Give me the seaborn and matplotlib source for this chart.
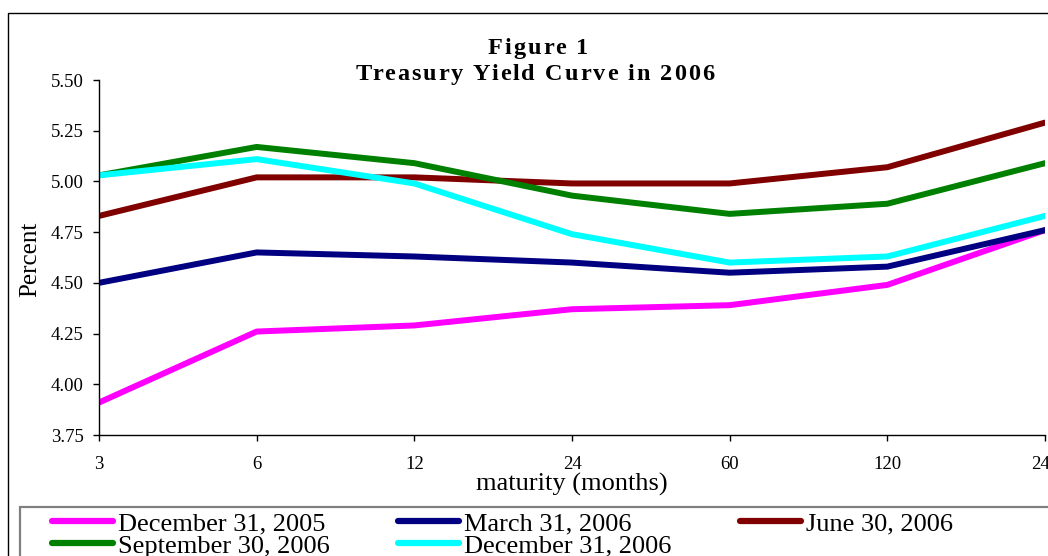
import matplotlib
matplotlib.use("Agg")
import matplotlib.pyplot as plt
import matplotlib.patches as mpatches
import seaborn as sns
import pandas as pd

# ---------------- data ----------------
maturities = ["3", "6", "12", "24", "60", "120", "240"]
dec_2005 = [3.91, 4.26, 4.29, 4.37, 4.39, 4.49, 4.76]
mar_2006 = [4.50, 4.65, 4.63, 4.60, 4.55, 4.58, 4.76]
jun_2006 = [4.83, 5.02, 5.02, 4.99, 4.99, 5.07, 5.29]
sep_2006 = [5.03, 5.17, 5.09, 4.93, 4.84, 4.89, 5.09]
dec_2006 = [5.03, 5.11, 4.99, 4.74, 4.60, 4.63, 4.83]
series_labels = ["December 31, 2005", "March 31, 2006", "June 30, 2006",
                 "September 30, 2006", "December 31, 2006"]
series_values = [dec_2005, mar_2006, jun_2006, sep_2006, dec_2006]
series_colors = ["#FF00FF", "#000080", "#800000", "#008000", "#00FFFF"]
y_ticks = [3.75, 4.00, 4.25, 4.50, 4.75, 5.00, 5.25, 5.50]

rows = []
for lab, vals in zip(series_labels, series_values):
    for i, v in enumerate(vals):
        rows.append({"pos": i, "maturity": maturities[i], "yield": v, "date": lab})
df = pd.DataFrame(rows)

# ---------------- figure ----------------
sns.set_theme(style="white")
plt.rcParams["font.family"] = ["Liberation Serif", "DejaVu Serif"]

W, H = 1048, 556
fig = plt.figure(figsize=(W / 100, H / 100), dpi=100)
fig.patch.set_facecolor("white")

def fx(px):
    return px / W

def fy(py):
    return 1 - py / H

ax = fig.add_axes([fx(99), fy(435), fx(1045) - fx(99), fy(80) - fy(435)])
ax.set_facecolor("white")

palette = dict(zip(series_labels, series_colors))
sns.lineplot(data=df, x="pos", y="yield", hue="date", hue_order=series_labels,
             palette=palette, linewidth=4.3, ax=ax, legend=True,
             solid_capstyle="round", solid_joinstyle="round")

ax.set_xlim(0, len(maturities) - 1)
ax.set_ylim(y_ticks[0], y_ticks[-1])
ax.set_xticks(range(len(maturities)))
ax.set_xticklabels(maturities)
ax.set_yticks(y_ticks)
ax.set_yticklabels([f"{t:.2f}" for t in y_ticks])
for s in ["top", "right"]:
    ax.spines[s].set_visible(False)
for s in ["left", "bottom"]:
    ax.spines[s].set_color("black")
    ax.spines[s].set_linewidth(1.0)
ax.tick_params(axis="both", which="major", direction="out", length=4,
               width=1, color="black", labelsize=13.5, labelcolor="black",
               left=True, bottom=True)
ax.tick_params(axis="y", pad=7)
ax.tick_params(axis="x", pad=11)
ax.grid(False)

ax.set_xlabel("maturity (months)", fontsize=19, color="black", va="center")
ax.xaxis.set_label_coords(0.5, (435 - 484) / 355)
ax.set_ylabel("Percent", fontsize=18, color="black", va="center")
ax.yaxis.set_label_coords((30 - 99) / 946, (435 - 259) / 355)

# legend (row-wise order -> column-wise for matplotlib)
handles, labels = ax.get_legend_handles_labels()
ax.get_legend().remove()
hmap = dict(zip(labels, handles))
order = ["December 31, 2005", "September 30, 2006", "March 31, 2006",
         "December 31, 2006", "June 30, 2006"]
leg = fig.legend([hmap[o] for o in order], order, ncol=3, loc="upper left",
                 bbox_to_anchor=(fx(52), fy(512)), frameon=False, fontsize=19,
                 handlelength=2.3, handletextpad=0.2, columnspacing=2.6,
                 labelspacing=-0.05, borderpad=0, borderaxespad=0)
for t in leg.get_texts():
    t.set_color("black")
for lh in leg.get_lines():
    lh.set_linewidth(4.5)
    lh.set_solid_capstyle("round")

# legend box and outer frame (extend beyond the visible area)
fig.add_artist(mpatches.Rectangle((fx(20), fy(620)), fx(1120) - fx(20), fy(507) - fy(620),
                                  transform=fig.transFigure, fill=False,
                                  edgecolor="#808080", linewidth=1.6, clip_on=False))
fig.add_artist(mpatches.Rectangle((fx(8), fy(640)), fx(1140) - fx(8), fy(13) - fy(640),
                                  transform=fig.transFigure, fill=False,
                                  edgecolor="black", linewidth=1.0, clip_on=False))

# letter-spaced bold title
renderer = fig.canvas.get_renderer()

def text_width(s, **kw):
    t = fig.text(0, 0, s, **kw)
    w = t.get_window_extent(renderer).width
    t.remove()
    return w

def spaced_title(s, xc, ybase, spacing, **kw):
    n = len(s)
    starts = []
    for i, ch in enumerate(s):
        starts.append(text_width(s[:i + 1], **kw) - text_width(ch, **kw) if ch != " " else None)
    total = text_width(s, **kw) + spacing * (n - 1)
    x0 = xc - total / 2
    for i, ch in enumerate(s):
        if ch == " ":
            continue
        fig.text(fx(x0 + starts[i] + spacing * i), fy(ybase), ch, ha="left",
                 va="baseline", **kw)

title_kw = dict(fontsize=17.5, fontweight="bold", color="black")
spaced_title("Figure 1", 538, 54, 2.0, **title_kw)
spaced_title("Treasury Yield Curve in 2006", 535, 80, 2.0, **title_kw)

fig.savefig("out.png", dpi=100, facecolor="white")
